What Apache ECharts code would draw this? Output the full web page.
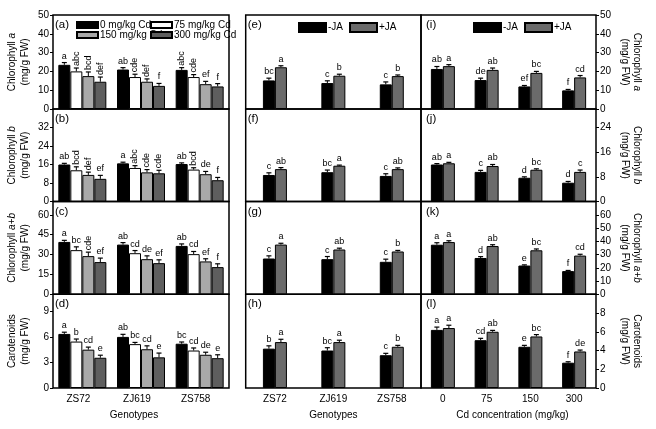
<!DOCTYPE html>
<html>
<head>
<meta charset="utf-8">
<script src="https://cdn.jsdelivr.net/npm/echarts@6/dist/echarts.min.js"></script>
<style>
html, body { margin: 0; padding: 0; background: #fff; }
#chart { width: 656px; height: 429px; }
</style>
</head>
<body>
<div id="chart"></div>
<script>
// categories
var genotypes = ['ZS72', 'ZJ619', 'ZS758'];
var cdLevels = ['0', '75', '150', '300'];
var cdNames = ['0 mg/kg Cd', '75 mg/kg Cd', '150 mg/kg Cd', '300 mg/kg Cd'];
var jaNames = ['-JA', '+JA'];

// left column: genotype x Cd level (one inner array per Cd level)
var chlaGeno = [[23.5, 21, 20.8], [20, 17, 17], [17.5, 14.5, 13.2], [14.5, 12.3, 12]];
var chlaGenoErr = [[1.2, 1, 1.2], [1.8, 1.5, 1.3], [2.2, 1.5, 1.5], [2.5, 1.3, 1.5]];
var chlaGenoSig = [['a', 'ab', 'abc'], ['abc', 'cde', 'cde'], ['bcd', 'def', 'ef'], ['def', 'f', 'f']];

var chlbGeno = [[16, 16.5, 16.2], [13.5, 14.5, 13.8], [11.5, 12.6, 11.8], [9.8, 12.2, 9.2]];
var chlbGenoErr = [[0.5, 0.5, 0.5], [1.5, 1, 0.8], [1.2, 1.2, 1.2], [1.5, 1.3, 1.2]];
var chlbGenoSig = [['ab', 'a', 'ab'], ['bcd', 'abc', 'bcd'], ['def', 'cde', 'de'], ['ef', 'cde', 'f']];

var chlabGeno = [[39.5, 37.5, 36.5], [33.3, 31, 30.3], [28.8, 26.5, 24.8], [24.3, 23.5, 20.5]];
var chlabGenoErr = [[1.2, 1.5, 1.5], [2.5, 2, 2], [3, 2.5, 2], [3, 2.5, 2.5]];
var chlabGenoSig = [['a', 'ab', 'ab'], ['bc', 'cd', 'cd'], ['cde', 'de', 'ef'], ['ef', 'ef', 'f']];

var carGeno = [[6.35, 6.0, 5.2], [5.45, 5.15, 4.4], [4.5, 4.55, 3.9], [3.55, 3.6, 3.5]];
var carGenoErr = [[0.2, 0.3, 0.2], [0.3, 0.2, 0.3], [0.3, 0.4, 0.3], [0.3, 0.5, 0.4]];
var carGenoSig = [['a', 'ab', 'bc'], ['b', 'bc', 'cd'], ['cd', 'cd', 'de'], ['e', 'e', 'e']];

// middle column: genotype x JA
var chlaJaGeno = [[15.2, 13.8, 13.1], [22.2, 17.7, 17.5]];
var chlaJaGenoErr = [[1.2, 1.2, 1.3], [0.8, 0.8, 0.6]];
var chlaJaGenoSig = [['bc', 'c', 'c'], ['a', 'b', 'b']];

var chlbJaGeno = [[8.6, 9.5, 8.3], [10.5, 11.6, 10.5]];
var chlbJaGenoErr = [[0.7, 0.7, 0.7], [0.5, 0.2, 0.4]];
var chlbJaGenoSig = [['c', 'bc', 'c'], ['ab', 'a', 'ab']];

var chlabJaGeno = [[27, 26.5, 24.5], [37.5, 33.8, 32.3]];
var chlabJaGenoErr = [[2, 2, 2], [1, 1, 0.8]];
var chlabJaGenoSig = [['c', 'c', 'c'], ['a', 'ab', 'b']];

var carJaGeno = [[4.2, 4.0, 3.5], [4.9, 4.9, 4.4]];
var carJaGenoErr = [[0.3, 0.3, 0.2], [0.3, 0.2, 0.15]];
var carJaGenoSig = [['b', 'bc', 'c'], ['a', 'a', 'b']];

// right column: Cd level x JA
var chlaJaCd = [[21.3, 15.4, 12, 9.9], [22.8, 20.8, 19.2, 16.8]];
var chlaJaCdErr = [[1.3, 1, 0.5, 0.5], [0.8, 1, 0.8, 1]];
var chlaJaCdSig = [['ab', 'de', 'ef', 'f'], ['a', 'ab', 'bc', 'cd']];

var chlbJaCd = [[12, 9.6, 7.7, 6.1], [12.4, 11.5, 10.3, 9.6]];
var chlbJaCdErr = [[0.3, 0.5, 0.3, 0.4], [0.3, 0.5, 0.3, 0.6]];
var chlbJaCdSig = [['ab', 'c', 'd', 'd'], ['a', 'ab', 'bc', 'c']];

var chlabJaCd = [[37.4, 27.4, 21.7, 17.5], [39.4, 36.4, 33.2, 29.2]];
var chlabJaCdErr = [[1.5, 1, 0.5, 0.5], [1, 1, 1, 1]];
var chlabJaCdSig = [['a', 'd', 'e', 'f'], ['a', 'ab', 'bc', 'cd']];

var carJaCd = [[6.2, 5.1, 4.4, 2.7], [6.4, 6.0, 5.5, 3.9]];
var carJaCdErr = [[0.3, 0.2, 0.15, 0.1], [0.3, 0.15, 0.2, 0.15]];
var carJaCdSig = [['a', 'cd', 'e', 'f'], ['a', 'ab', 'bc', 'de']];

// y axis titles and ranges per row
var rowTitles = ['{n|Chlorophyll }{i|a}', '{n|Chlorophyll }{i|b}', '{n|Chlorophyll }{i|a+b}', '{n|Carotenoids}'];
var genoScale = [[50, 10], [40, 8], [70, 15], [11, 3]];
var jaScale = [[50, 10], [30, 8], [70, 10], [10, 2]];

// layout / style
var rowTop = [15, 109, 201.5, 294.3];
var rowH = [94, 92.5, 92.8, 93.7];
var cols = [{ left: 53, width: 176 }, { left: 245.7, width: 175.3 }, { left: 421, width: 175 }];
var cdColors = ['#000000', '#ffffff', '#a9a9a9', '#5e5e5e'];
var jaColors = ['#000000', '#6b6b6b'];
var FONT = 'Liberation Sans, Arial, sans-serif';

var panels = [
    { col: 0, row: 0, tag: '(a)', mean: chlaGeno, err: chlaGenoErr, sig: chlaGenoSig },
    { col: 0, row: 1, tag: '(b)', mean: chlbGeno, err: chlbGenoErr, sig: chlbGenoSig },
    { col: 0, row: 2, tag: '(c)', mean: chlabGeno, err: chlabGenoErr, sig: chlabGenoSig },
    { col: 0, row: 3, tag: '(d)', mean: carGeno, err: carGenoErr, sig: carGenoSig },
    { col: 1, row: 0, tag: '(e)', mean: chlaJaGeno, err: chlaJaGenoErr, sig: chlaJaGenoSig },
    { col: 1, row: 1, tag: '(f)', mean: chlbJaGeno, err: chlbJaGenoErr, sig: chlbJaGenoSig },
    { col: 1, row: 2, tag: '(g)', mean: chlabJaGeno, err: chlabJaGenoErr, sig: chlabJaGenoSig },
    { col: 1, row: 3, tag: '(h)', mean: carJaGeno, err: carJaGenoErr, sig: carJaGenoSig },
    { col: 2, row: 0, tag: '(i)', mean: chlaJaCd, err: chlaJaCdErr, sig: chlaJaCdSig },
    { col: 2, row: 1, tag: '(j)', mean: chlbJaCd, err: chlbJaCdErr, sig: chlbJaCdSig },
    { col: 2, row: 2, tag: '(k)', mean: chlabJaCd, err: chlabJaCdErr, sig: chlabJaCdSig },
    { col: 2, row: 3, tag: '(l)', mean: carJaCd, err: carJaCdErr, sig: carJaCdSig }
];

var BAR_W = 12;

//误差线和显著性字母
function makeErrRender(offset, sigs) {
    return function(params, api) {
        var i = api.value(0), m = api.value(1), e = api.value(2);
        var top = api.coord([i, m]);
        var hi = api.coord([i, m + e]);
        var x = top[0] + offset;
        var s = sigs[params.dataIndex];
        var rot = s.length >= 3;
        return {
            type: 'group',
            children: [
                { type: 'line', shape: { x1: x, y1: top[1], x2: x, y2: hi[1] }, style: { stroke: '#000', lineWidth: 1 } },
                { type: 'line', shape: { x1: x - 2.5, y1: hi[1], x2: x + 2.5, y2: hi[1] }, style: { stroke: '#000', lineWidth: 1.2 } },
                {
                    type: 'text', x: x, y: hi[1] - 2, rotation: rot ? Math.PI / 2 : 0,
                    style: { text: s, fill: '#000', font: '9px ' + FONT, align: rot ? 'left' : 'center', verticalAlign: rot ? 'middle' : 'bottom' }
                }
            ]
        };
    };
}

var grids = [], xAxes = [], yAxes = [], series = [], titles = [];

panels.forEach(function(p, idx) {
    var c = cols[p.col];
    var cats = p.col === 2 ? cdLevels : genotypes;
    var names = p.col === 0 ? cdNames : jaNames;
    var colors = p.col === 0 ? cdColors : jaColors;
    var sc = p.col === 0 ? genoScale[p.row] : jaScale[p.row];
    var bottom = p.row === 3;

    grids.push({
        left: c.left, top: rowTop[p.row], width: c.width, height: rowH[p.row],
        show: true, borderColor: '#000', borderWidth: 1.5, backgroundColor: 'transparent',
        outerBoundsMode: 'none', containLabel: false
    });

    xAxes.push({
        type: 'category', gridIndex: idx, data: cats,
        axisLine: { show: false }, axisTick: { show: false },
        axisLabel: { show: bottom, color: '#000', fontSize: 10, fontFamily: FONT, margin: 6,
            padding: p.col === 0 ? [0, 8, 0, 0] : 0 },
        name: bottom ? (p.col === 2 ? 'Cd concentration (mg/kg)' : 'Genotypes') : '',
        nameLocation: 'middle', nameGap: 22,
        nameTextStyle: { color: '#000', fontSize: 10, fontFamily: FONT,
            padding: p.col === 0 ? [0, 14, 0, 0] : (p.col === 2 ? [0, 0, 0, 8] : 0) }
    });

    var showY = p.col !== 1;
    var richName = {
        n: { fontSize: 10, fontFamily: FONT, color: '#000', lineHeight: 12.5 },
        i: { fontSize: 10, fontFamily: FONT, color: '#000', fontStyle: 'italic', lineHeight: 12.5 }
    };
    yAxes.push({
        type: 'value', gridIndex: idx, min: 0, max: sc[0], interval: sc[1],
        position: p.col === 2 ? 'right' : 'left',
        splitLine: { show: false },
        axisLine: { show: false },
        axisTick: { show: showY, inside: false, length: 3, lineStyle: { color: '#000', width: 1 } },
        axisLabel: { show: showY, color: '#000', fontSize: 10, fontFamily: FONT, margin: 4, showMaxLabel: p.row === 0, showMinLabel: true },
        name: showY ? rowTitles[p.row] + '\n{n|(mg/g FW)}' : '',
        nameLocation: 'middle', nameRotate: p.col === 2 ? -90 : 90, nameGap: 22,
        nameTextStyle: { rich: richName, fontSize: 10, lineHeight: 12.5 }
    });

    var n = p.mean.length;
    p.mean.forEach(function(vals, k) {
        series.push({
            type: 'bar', name: names[k], xAxisIndex: idx, yAxisIndex: idx,
            data: vals, barWidth: BAR_W, barGap: '0%',
            itemStyle: { color: colors[k], borderColor: '#000', borderWidth: 1 },
            animation: false, z: 2
        });
        series.push({
            type: 'custom', name: 'err' + idx + '_' + k, xAxisIndex: idx, yAxisIndex: idx,
            data: vals.map(function(v, i) { return [i, v, p.err[k][i]]; }),
            renderItem: makeErrRender((k - (n - 1) / 2) * BAR_W, p.sig[k]),
            clip: false, animation: false, silent: true, z: 3
        });
    });

    titles.push({
        text: p.tag, left: c.left + (p.col === 2 ? 5 : 2), top: rowTop[p.row] + 4, padding: 0,
        textStyle: { fontSize: 11.5, fontWeight: 'normal', color: '#000', fontFamily: FONT }
    });
});

function oneLegend(name, left, top, w, h) {
    return {
        data: [name], left: left, top: top, padding: 0, icon: 'rect',
        itemWidth: w, itemHeight: h, itemGap: 6, selectedMode: false,
        textStyle: { fontSize: 10, color: '#000', fontFamily: FONT, padding: [0, 0, 0, -3] }
    };
}

var legends = [
    oneLegend(cdNames[0], 76, 20, 21, 6),
    oneLegend(cdNames[1], 150, 20, 21, 6),
    oneLegend(cdNames[2], 76, 30, 21, 6),
    oneLegend(cdNames[3], 150, 30, 21, 6),
    { data: jaNames, left: 298, top: 22, padding: 0, icon: 'rect', itemWidth: 27, itemHeight: 9, itemGap: 6, selectedMode: false,
      textStyle: { fontSize: 10, color: '#000', fontFamily: FONT, padding: [0, 0, 0, -3] } },
    { data: jaNames, left: 473, top: 22, padding: 0, icon: 'rect', itemWidth: 27, itemHeight: 9, itemGap: 6, selectedMode: false,
      textStyle: { fontSize: 10, color: '#000', fontFamily: FONT, padding: [0, 0, 0, -3] } }
];

var myChart = echarts.init(document.getElementById('chart'), null, { renderer: 'canvas' });
myChart.setOption({
    backgroundColor: '#fff',
    animation: false,
    textStyle: { fontFamily: FONT, color: '#000' },
    title: titles,
    legend: legends,
    grid: grids,
    xAxis: xAxes,
    yAxis: yAxes,
    series: series
});
</script>
</body>
</html>
